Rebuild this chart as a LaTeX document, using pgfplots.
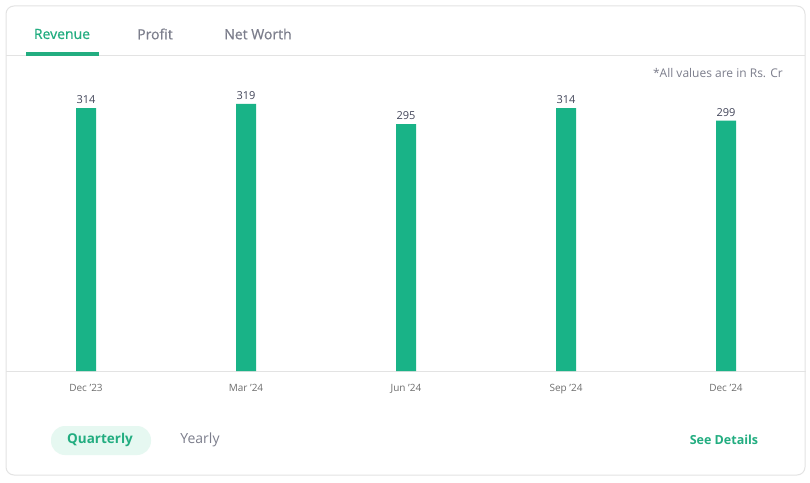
\documentclass[border=0pt]{standalone}
\usepackage{pgfplots}
\pgfplotsset{compat=1.18}
\usepackage{fontspec}
\setmainfont{Open Sans}
\newfontfamily\medfont[FakeBold=0.6]{Open Sans}
\definecolor{barg}{HTML}{19B387}
\definecolor{txtg}{HTML}{22AD80}
\definecolor{tabgray}{HTML}{7C7E8C}
\definecolor{lblgray}{HTML}{6E6E6E}
\definecolor{valgray}{HTML}{44475B}
\definecolor{cardline}{HTML}{E3E3E3}
\definecolor{pill}{HTML}{E6F8F1}
\begin{document}
\begin{tikzpicture}[x=1pt,y=1pt]
% page frame
\path[fill=white] (0,0) rectangle (810,482);
% card
\draw[cardline, line width=1pt, rounded corners=8pt] (6,7) rectangle (805,476);
% tab separator
\draw[cardline, line width=1pt] (6,426) -- (805,426);
% active tab underline
\fill[txtg] (26,426) rectangle (99,429.5);
% tabs
\node[font=\fontsize{14}{16}\medfont, text=txtg] at (62,448) {Revenue};
\node[font=\fontsize{14}{16}\medfont, text=tabgray] at (155,448) {Profit};
\node[font=\fontsize{14}{16}\medfont, text=tabgray] at (258,448) {Net Worth};
% note
\node[font=\fontsize{12}{14}\selectfont, text=tabgray, anchor=east, inner sep=0pt] at (783,409) {*All values are in Rs. Cr};
% bottom controls
\fill[pill, rounded corners=14pt] (51,27) rectangle (151,56);
\node[font=\fontsize{13.5}{16}\selectfont\bfseries, text=txtg] at (100,42) {Quarterly};
\node[font=\fontsize{14}{16}\selectfont, text=tabgray] at (200,42) {Yearly};
\node[font=\fontsize{12.5}{15}\selectfont\bfseries, text=txtg] at (724,42) {See Details};
\begin{axis}[
  at={(6pt,111pt)}, anchor=south west,
  scale only axis, width=800pt, height=292.95pt,
  xmin=-0.5, xmax=4.5, ymin=0, ymax=350,
  axis x line*=bottom, axis y line=none,
  axis line style={draw=cardline, line width=1pt},
  xtick=data, xticklabels={Dec '23,Mar '24,Jun '24,Sep '24,Dec '24},
  xtick style={draw=none},
  xticklabel style={font=\fontsize{10}{12}\selectfont, text=lblgray, yshift=-10pt},
  ytick=\empty,
  /pgf/number format/assume math mode=true,
  nodes near coords,
  every node near coord/.append style={font=\fontsize{11}{13}\selectfont, text=valgray, yshift=1pt},
  clip=false,
]
\addplot[ybar, bar width=20pt, fill=barg, draw=none] coordinates {(0,314) (1,319) (2,295) (3,314) (4,299)};
\end{axis}
\end{tikzpicture}
\end{document}
